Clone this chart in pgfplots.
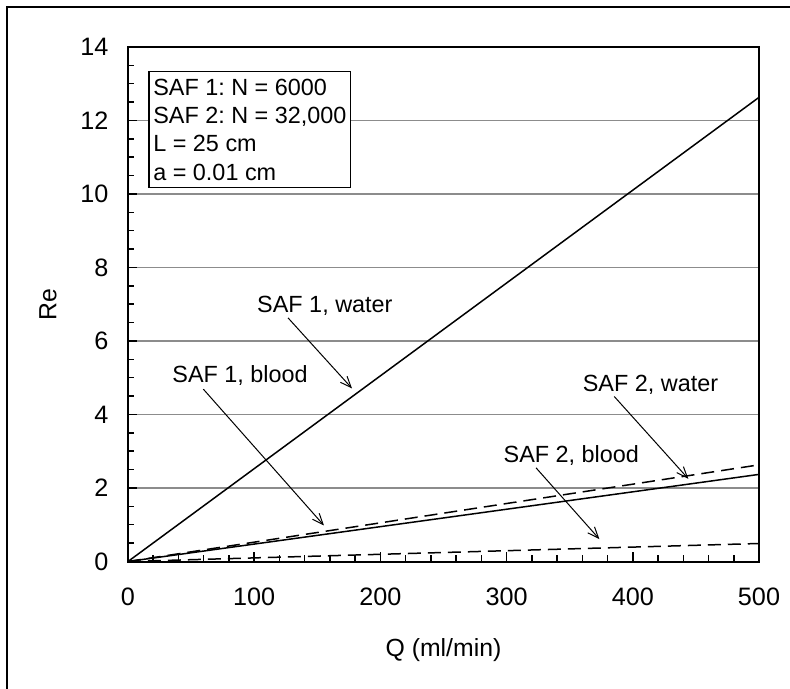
\documentclass[border=0pt]{standalone}
\usepackage{pgfplots}
\pgfplotsset{compat=1.18}
\usepackage{fontspec}
\setmainfont{Liberation Sans}
\usetikzlibrary{arrows.meta}
\frenchspacing
\begin{document}
\begin{tikzpicture}
\path[use as bounding box] (-64bp,-63.75bp) rectangle (331bp,280.75bp);
\draw[line width=1bp] (-60.25bp,-70bp) -- (-60.25bp,277bp) -- (340bp,277bp);
\begin{axis}[
  at={(0,0)}, anchor=south west,
  scale only axis, width=315.5bp, height=257.25bp,
  xmin=0, xmax=500, ymin=0, ymax=14,
  xtick={0,100,...,500}, ytick={0,2,...,14},
  minor x tick num=4, minor y tick num=3,
  xtick pos=bottom, ytick pos=left, tick align=inside,
  major tick length=4.5bp, minor tick length=3bp,
  every tick/.style={black, line width=0.75bp},
  axis line style={line width=1bp},
  ymajorgrids, grid style={gray!90, line width=0.75bp},
  /pgf/number format/assume math mode=true,
  ticklabel style={font=\fontsize{12.6bp}{15bp}\selectfont},
  xticklabel style={yshift=-9.6bp},
  yticklabel style={xshift=-6.3bp},
  xlabel={Q (ml/min)}, ylabel={Re},
  label style={font=\fontsize{12.4bp}{15bp}\selectfont},
  xlabel style={at={(axis description cs:0.5,0)}, anchor=center, yshift=-44.25bp},
  ylabel style={at={(axis description cs:0,0.5)}, anchor=center, yshift=40bp},
]
\addplot[black, line width=0.75bp] coordinates {(0,0) (500,12.63)};
\addplot[black, line width=0.75bp] coordinates {(0,0) (500,2.37)};
\addplot[black, line width=0.75bp, dash pattern=on 6.5bp off 3.5bp] coordinates {(0,0) (500,2.63)};
\addplot[black, line width=0.75bp, dash pattern=on 6.5bp off 3.5bp] coordinates {(0,0) (500,0.49)};

\node[draw, line width=0.6bp, fill=white, anchor=north west, inner xsep=2.2bp, inner ysep=3.6bp,
  align=left, font=\fontsize{11.7bp}{14.15bp}\selectfont]
  at (axis cs:16.1,13.34) {SAF 1: N = 6000\\SAF 2: N = 32,000\\L = 25 cm\\a = 0.01 cm};

\begin{scope}[every node/.style={font=\fontsize{11.7bp}{14bp}\selectfont}]
\node at (axis cs:156,6.96) {SAF 1, water};
\node at (axis cs:88.8,5.05) {SAF 1, blood};
\node at (axis cs:414,4.82) {SAF 2, water};
\node at (axis cs:351.3,2.88) {SAF 2, blood};
\end{scope}
\begin{scope}[line width=0.5bp, -{Straight Barb[length=5.5bp,width=4.5bp]}]
\draw (axis cs:126.8,6.63) -- (axis cs:177.5,4.71);
\draw (axis cs:59.7,4.69) -- (axis cs:155.3,0.98);
\draw (axis cs:385.3,4.49) -- (axis cs:444,2.25);
\draw (axis cs:323.3,2.55) -- (axis cs:373.5,0.61);
\end{scope}
\end{axis}
\end{tikzpicture}
\end{document}
